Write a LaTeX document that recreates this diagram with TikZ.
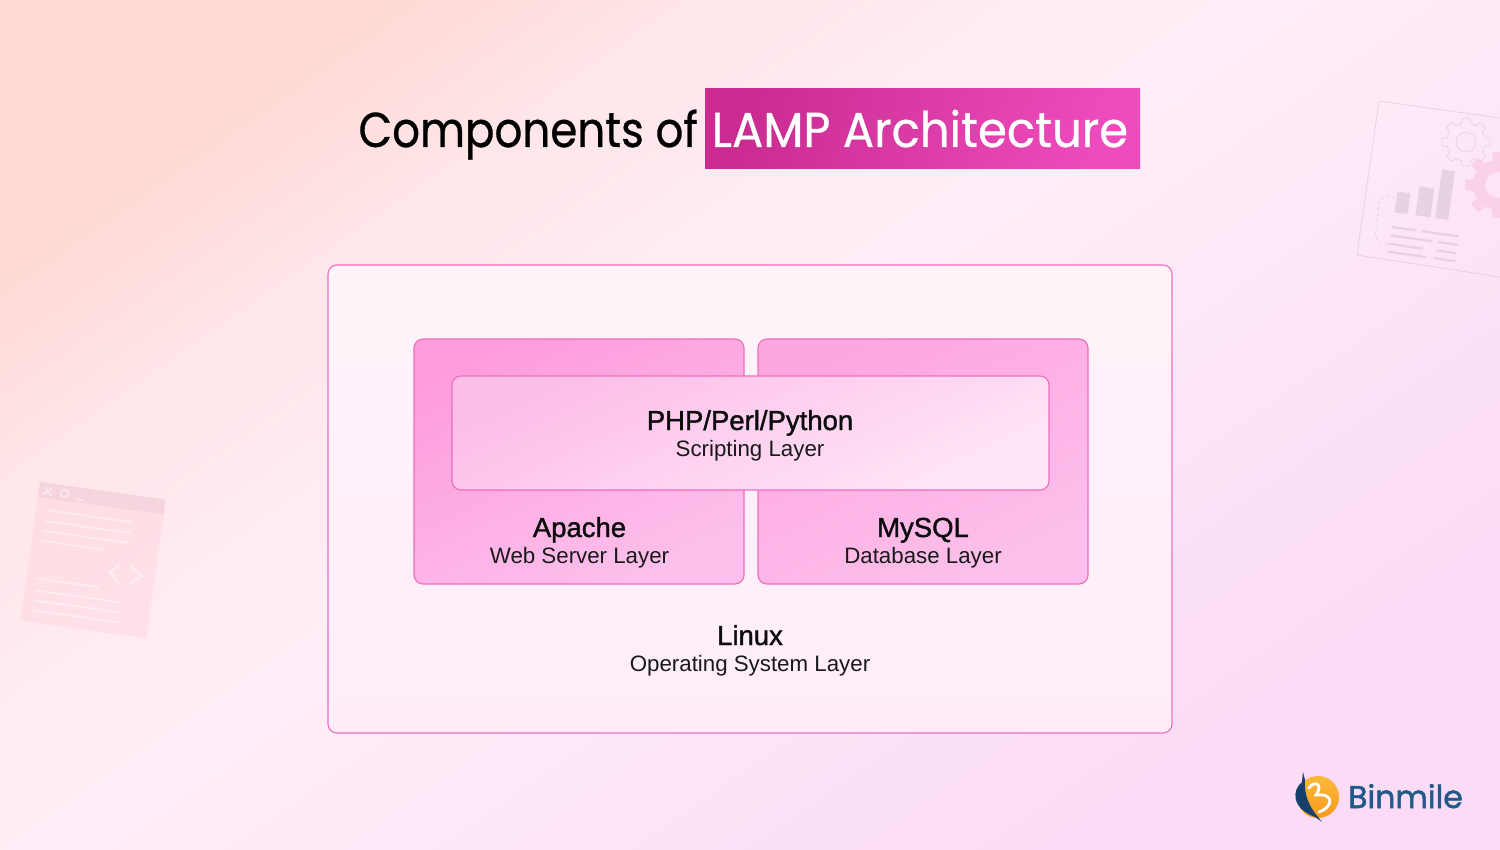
\documentclass[tikz,border=0pt]{standalone}
\usepackage{fontspec}
\setmainfont{Liberation Sans}
\newfontfamily\titlefont[FakeStretch=.89, FakeBold=.6]{Poppins}
\newfontfamily\titlefontb[FakeStretch=.95, FakeBold=.6]{Poppins}
\newfontfamily\headfont[FakeBold=1.4]{Liberation Sans}
\newfontfamily\brandfont[FakeBold=1.6]{Poppins}
\usetikzlibrary{positioning}

\definecolor{linepink}{HTML}{EC6FBE}
\definecolor{ghostgrey}{HTML}{E6D2E0}
\definecolor{brandblue}{HTML}{1F5A88}
\definecolor{brandnavy}{HTML}{163F6C}
\definecolor{brandorange}{HTML}{F59A1E}
\definecolor{brandyellow}{HTML}{FDB93A}
\definecolor{washa}{HTML}{FFD8D4}
\definecolor{washb}{HTML}{FFE6E9}
\definecolor{washc}{HTML}{FFEEF7}
\definecolor{washd}{HTML}{FBDBF6}
\definecolor{windowfill}{HTML}{FFC9D6}
\definecolor{windowbar}{HTML}{E8C8D4}
\definecolor{gearpink}{HTML}{FBC8E4}
\definecolor{titleleft}{HTML}{C92B90}
\definecolor{titleright}{HTML}{EE4CBE}
\definecolor{linuxtop}{HTML}{FFF4FA}
\definecolor{linuxlow}{HTML}{FEEDF9}
\definecolor{apachetop}{HTML}{FE9CDC}
\definecolor{mysqltop}{HTML}{FEA6DF}
\definecolor{layerlow}{HTML}{FDC0EC}
\definecolor{scriptleft}{HTML}{FDBDE9}
\definecolor{scriptright}{HTML}{FFE6F7}
\pgfdeclarehorizontalshading{pagewash}{100bp}{
  color(0bp)=(washa); color(25bp)=(washa); color(33bp)=(washb);
  color(47bp)=(washc); color(75bp)=(washd); color(100bp)=(washd)}
\tikzset{
  layerbox/.style={draw=linepink, line width=1.1pt, rounded corners=9pt, inner sep=0pt, outer sep=0pt, anchor=north west},
  headtext/.style={font=\headfont\fontsize{27.5}{27.5}\selectfont, text=black!95, inner sep=0pt, anchor=base},
  subtext/.style={font=\fontsize{22.3}{22.3}\selectfont, text=black!90, inner sep=0pt, anchor=base},
  ghostline/.style={draw=ghostgrey, line width=2.2pt},
  windowline/.style={draw=white, opacity=.4, line width=2pt}
}
\newcommand{\gearpath}[3]{plot[samples=241, domain=0:360, shift={#1}] (\x:{#2+(#3-#2)*max(0,min(1,.5+1.6*cos(8*\x)))}) -- cycle}

\begin{document}
\begin{tikzpicture}[x=1pt, y=-1pt]
  \useasboundingbox (0,0) rectangle (1500,850);

  % background
  \path[shading=pagewash, shading angle=-55] (0,0) rectangle (1500,850);

  % window sketch on the left
  \begin{scope}[shift={(40,482)}, rotate=-8]
    \fill[windowfill, opacity=.3] (0,0) rectangle (127,140);
    \fill[windowbar, opacity=.4] (0,0) rectangle (127,15);
    \draw[windowline] (5,4) -- (13,12) (13,4) -- (5,12);
    \draw[windowline] (26,8) circle (4);
    \draw[windowline] (37,12) -- (45,12);
    \foreach \ya/\xb in {27/97, 38/97, 48/97, 58/73, 96/73, 108/97, 118/97, 128/97}
      \draw[windowline] (10,\ya) -- (\xb,\ya);
    \draw[windowline, line width=2.6pt] (90,71) -- (82,80) -- (92,89);
    \draw[windowline, line width=2.6pt] (101,71) -- (114,79) -- (103,88);
  \end{scope}

  % report sketch on the right
  \draw[ghostgrey, line width=.8pt] (1500,118) -- (1379,101) -- (1357,255) -- (1500,277);
  \draw[ghostgrey, line width=.7pt] \gearpath{(1466,142)}{19}{24};
  \draw[ghostgrey, line width=.7pt] (1466,142) circle (10);
  \fill[gearpink, opacity=.7, even odd rule] \gearpath{(1498,185)}{25}{33} (1498,185) circle (13);
  \begin{scope}[shift={(1379,101)}, rotate=-8]
    \fill[ghostgrey] (31,87) rectangle (44,108);
    \fill[ghostgrey] (52,79) rectangle (67,108);
    \fill[ghostgrey] (72,59) rectangle (85,108);
    \draw[ghostgrey, line width=.8pt, dashed] (29,93) -- (18,94) -- (14,98) -- (15,134) -- (19,139) -- (30,140);
    \foreach \xa/\xb/\ya in {30/54/123, 60/98/123, 30/72/131.5, 78/98/131.5, 30/64/140, 78/98/140, 30/68/148, 76/98/148}
      \draw[ghostline] (\xa,\ya) -- (\xb,\ya);
  \end{scope}

  % title
  \node[minimum width=435pt, minimum height=80.5pt, inner sep=0pt, outer sep=0pt, anchor=north west,
    top color=titleleft, bottom color=titleright, shading angle=75] (titlebox) at (705,88.5) {};
  \node[font=\titlefontb\fontsize{49}{49}\selectfont, text=white, inner sep=0pt, anchor=base] (titleb)
    at (920,147) {LAMP Architecture};
  \node[font=\titlefont\fontsize{49}{49}\selectfont, text=black, inner sep=0pt, anchor=base east] (titlea)
    at (698,147) {Components of};

  % layers
  \node[layerbox, top color=linuxtop, bottom color=linuxlow, minimum width=844pt, minimum height=468pt] (linuxbox) at (328,265) {};
  \node[layerbox, top color=apachetop, bottom color=layerlow, shading angle=25, minimum width=330pt, minimum height=245pt] (apachebox) at (414,339) {};
  \node[layerbox, top color=mysqltop, bottom color=layerlow, shading angle=25, minimum width=330pt, minimum height=245pt] (mysqlbox) at (758,339) {};
  \node[layerbox, top color=scriptleft, bottom color=scriptright, shading angle=25, minimum width=597pt, minimum height=114pt] (scriptbox) at (452,376) {};

  \node[headtext] (phphead) at (750,430) {PHP/Perl/Python};
  \node[subtext] (phpsub) at (750,456.5) {Scripting Layer};
  \node[headtext] (apachehead) at (579.5,537) {Apache};
  \node[subtext] (apachesub) at (579.5,563.5) {Web Server Layer};
  \node[headtext] (mysqlhead) at (923,537) {MySQL};
  \node[subtext] (mysqlsub) at (923,563.5) {Database Layer};
  \node[headtext] (linuxhead) at (750,645) {Linux};
  \node[subtext] (linuxsub) at (750,671.5) {Operating System Layer};

  % logo
  \shade[top color=brandyellow, bottom color=brandorange] (1318,797) circle (21);
  \fill[brandnavy] (1303,772) -- (1302,782) .. controls (1292,790) and (1291,808) .. (1315,817)
    -- (1322,822) .. controls (1312,810) and (1304,800) .. (1305,780) -- cycle;
  \draw[white, line width=2.8pt, line cap=round] (1309,788) .. controls (1314,780) and (1324,784) .. (1316,795)
    .. controls (1336,793) and (1332,808) .. (1319,812);
  \node[font=\brandfont\fontsize{31.5}{31.5}\selectfont, text=brandblue, inner sep=0pt, anchor=base west] (brand)
    at (1348,808) {Binmile};
\end{tikzpicture}
\end{document}
